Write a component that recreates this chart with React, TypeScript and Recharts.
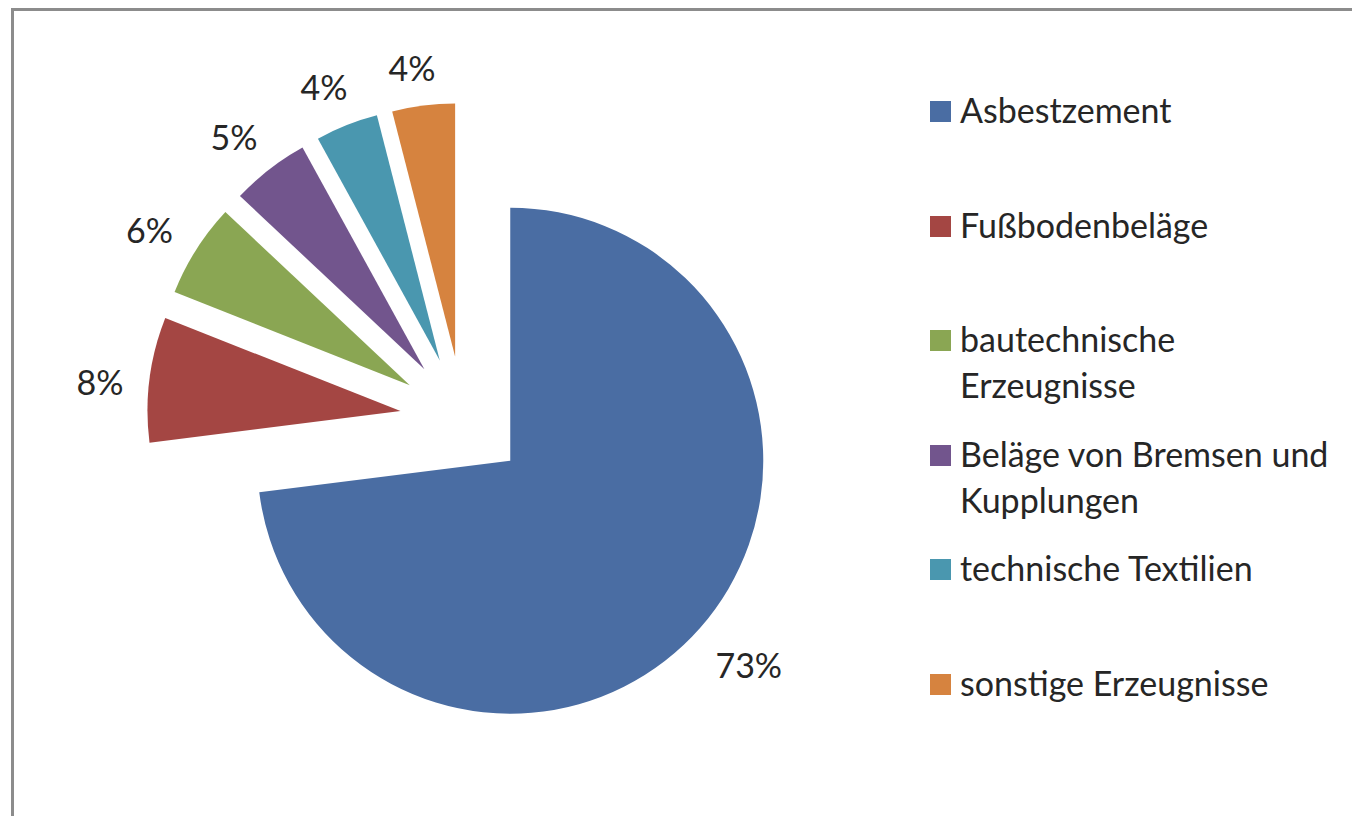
import { PieChart, Pie, Cell, Legend } from 'recharts';

const categories = [
  'Asbestzement',
  'Fußbodenbeläge',
  'bautechnische Erzeugnisse',
  'Beläge von Bremsen und Kupplungen',
  'technische Textilien',
  'sonstige Erzeugnisse',
];
const shares = [73, 8, 6, 5, 4, 4];
const colors = ['#4a6da3', '#a44643', '#8aa653', '#72558d', '#4a97af', '#d6833f'];

const W = 1338;
const H = 813;
const CX = 449;
const CY = 408;
const R = 253;
const EXPLODE = 63;
const FONT = 'Lato, "Open Sans", sans-serif';

// labels sit a little counter-clockwise of the slice middle, like Excel does it
const renderLabel = (props: any) => {
  const { cx, cy, midAngle, outerRadius, value } = props;
  const text = `${value}%`;
  const rad = ((midAngle + 1.2) * Math.PI) / 180;
  const halfW = text.length * 11;
  const ext = Math.abs(Math.cos(rad)) * halfW + Math.abs(Math.sin(rad)) * 12.5;
  const r = outerRadius + 26 + ext;
  return (
    <text
      x={cx + r * Math.cos(rad)}
      y={cy - r * Math.sin(rad) + 2}
      textAnchor="middle"
      dominantBaseline="central"
      fontFamily={FONT}
      fontSize={34}
      fill="#262626"
    >
      {text}
    </text>
  );
};

const renderLegend = () => (
  <div style={{ fontFamily: FONT, fontSize: 34, color: '#262626', width: 420 }}>
    {categories.map((name, i) => (
      <div key={name} style={{ position: 'relative', height: 114.6, paddingLeft: 30, lineHeight: '46px' }}>
        <span style={{ position: 'absolute', left: 0, top: 14, width: 21, height: 21, background: colors[i] }} />
        {name}
      </div>
    ))}
  </div>
);

export default function App() {
  const total = shares.reduce((a, b) => a + b, 0);
  let acc = 0;
  const slices = categories.map((name, i) => {
    const start = 90 - (acc / total) * 360;
    acc += shares[i];
    const end = 90 - (acc / total) * 360;
    const mid = (((start + end) / 2) * Math.PI) / 180;
    return { name, value: shares[i], color: colors[i], start, end, dx: EXPLODE * Math.cos(mid), dy: -EXPLODE * Math.sin(mid) };
  });

  return (
    <div
      style={{
        marginLeft: 3,
        marginBottom: -8,
        borderTop: '3px solid #8c8c8c',
        borderLeft: '3px solid #8c8c8c',
        width: W,
        height: H,
        background: '#fff',
      }}
    >
      <PieChart width={W} height={H} margin={{ top: 0, right: 0, bottom: 0, left: 0 }}>
        {slices.map((s) => (
          <Pie
            key={s.name}
            data={[s]}
            dataKey="value"
            nameKey="name"
            cx={CX + s.dx}
            cy={CY + s.dy}
            outerRadius={R}
            startAngle={s.start}
            endAngle={s.end}
            stroke="none"
            label={renderLabel}
            labelLine={false}
            isAnimationActive={false}
          >
            <Cell fill={s.color} />
          </Pie>
        ))}
        <Legend
          layout="vertical"
          align="right"
          verticalAlign="top"
          content={renderLegend}
          wrapperStyle={{ left: 916, top: 76, width: 420 }}
        />
      </PieChart>
    </div>
  );
}
